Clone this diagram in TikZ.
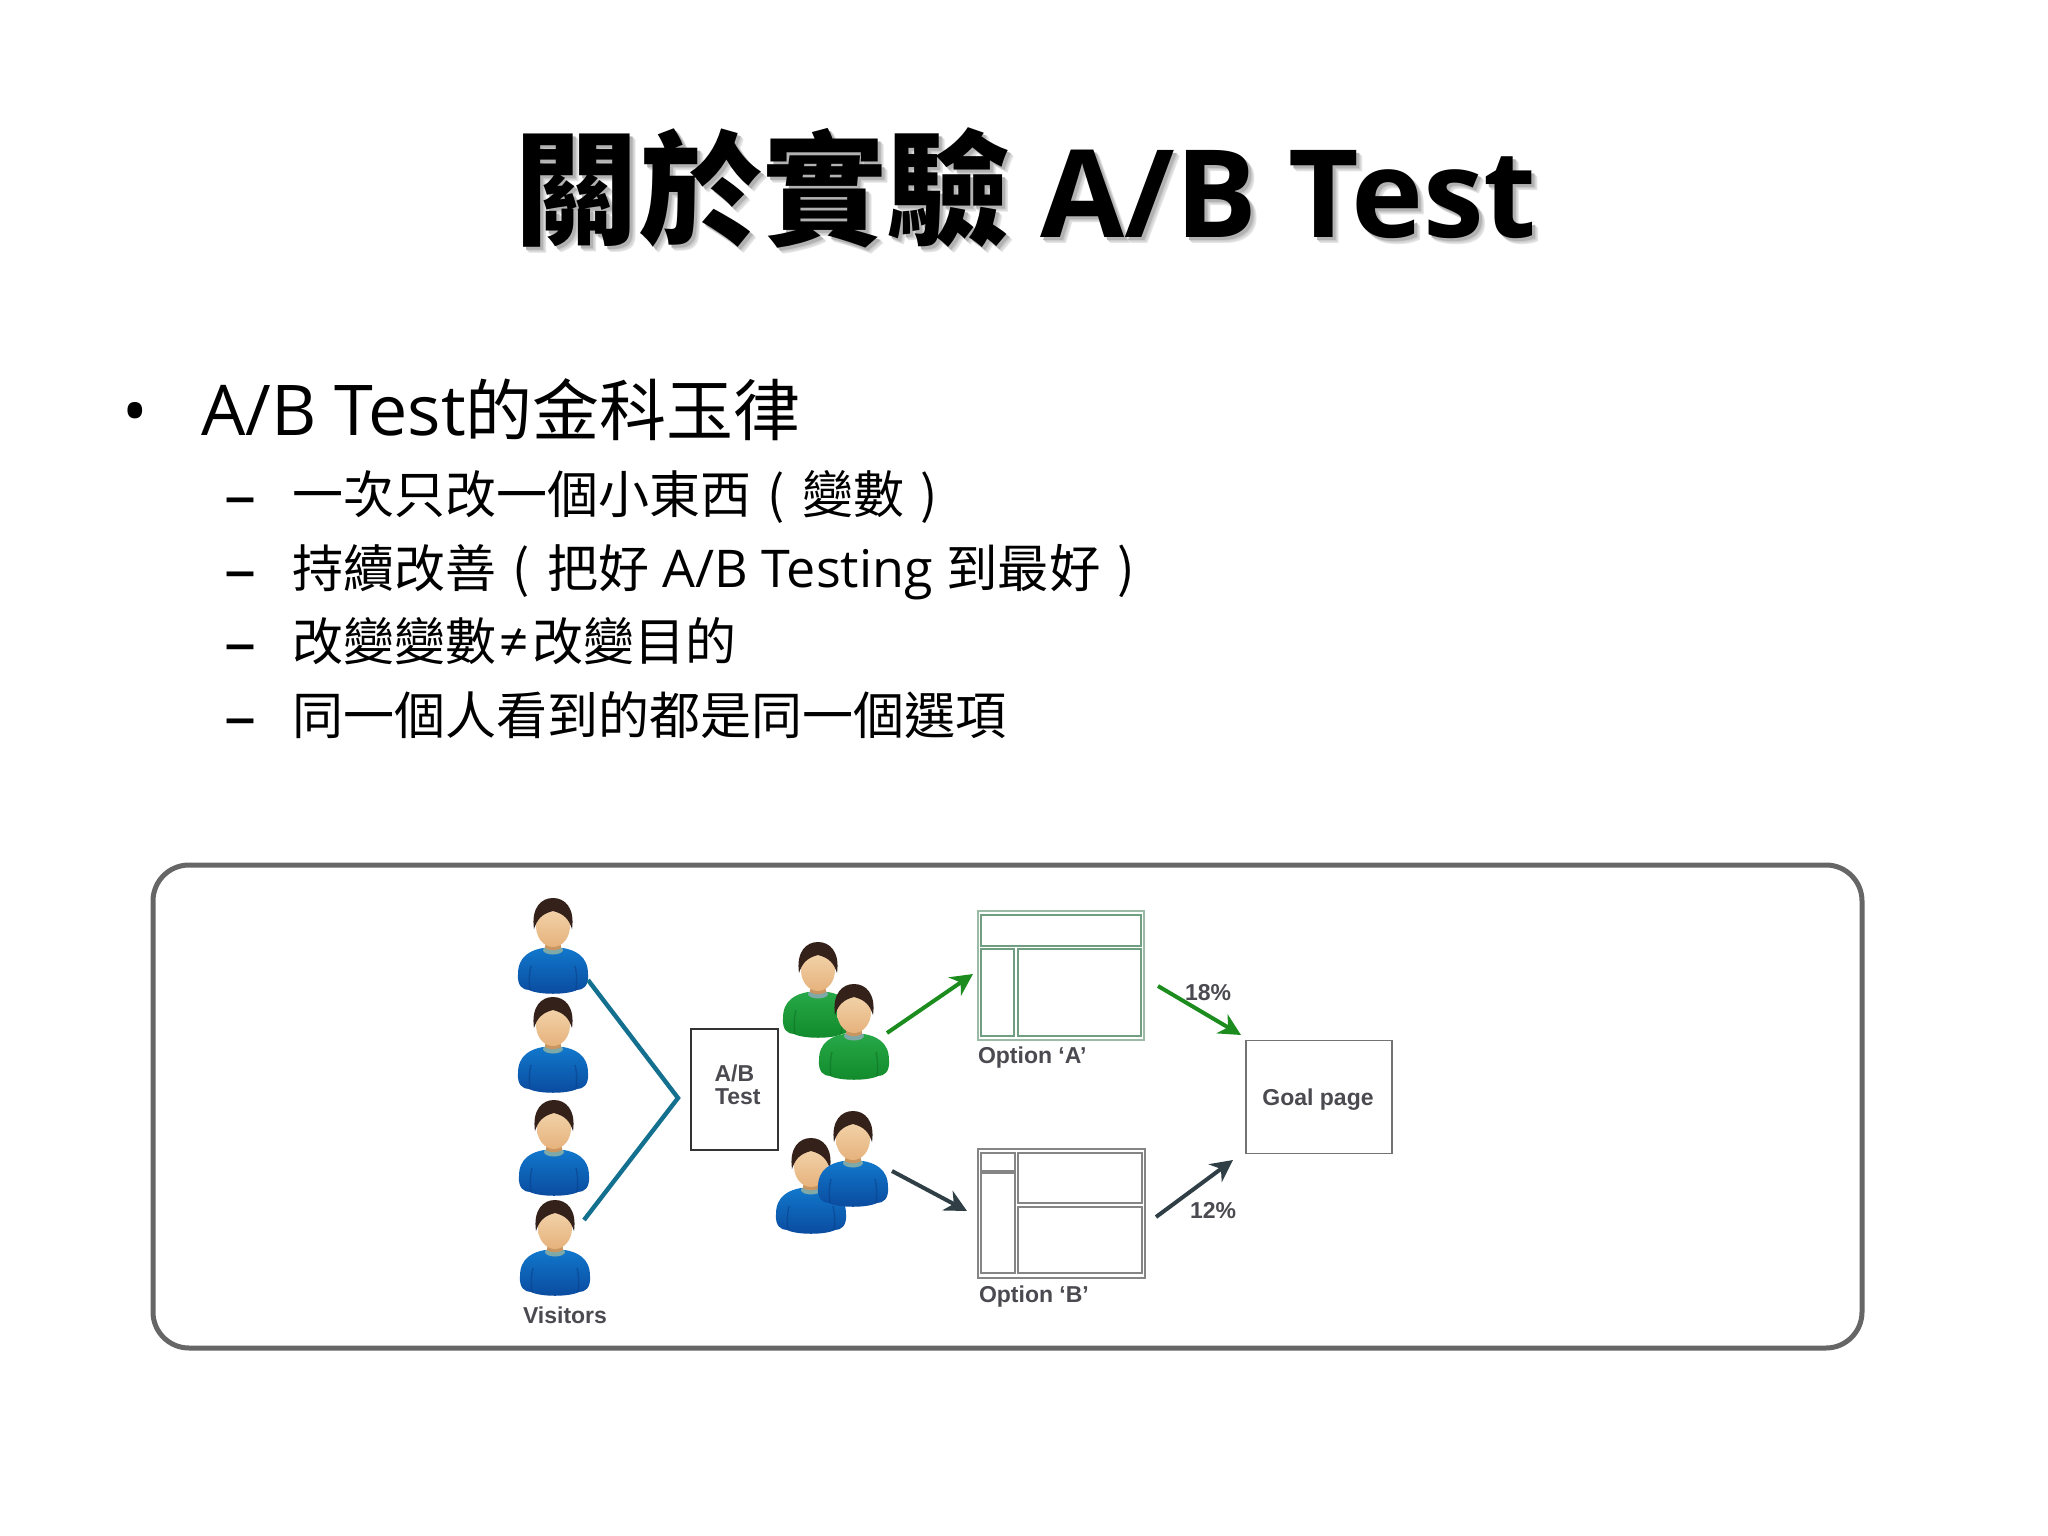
\documentclass[tikz,border=0pt]{standalone}
\usepackage{fontspec}
\usetikzlibrary{arrows.meta}
\setmainfont{Open Sans}
\newfontfamily\cjk{Noto Sans CJK TC}
\newfontfamily\diag{Liberation Sans}[BoldFont={Liberation Sans Bold}]
\newcommand\fsz[1]{\fontsize{#1}{#1}\selectfont}
\newcommand\fp[1]{\makebox[51pt][c]{\cjk #1}}
\newcommand\titletext{\raisebox{2pt}{\cjk\fsz{124}關於實驗}\hspace{-1pt} A/B Test}
\definecolor{diagtext}{HTML}{4A4A50}
\definecolor{panelline}{HTML}{666666}
\definecolor{splitblue}{HTML}{14708F}
\definecolor{arrowgreen}{HTML}{1C8C1F}
\definecolor{arrowdark}{HTML}{2F3F45}
\definecolor{hairc}{HTML}{33211A}
\definecolor{framegreen}{HTML}{6F9F80}
\definecolor{framegray}{HTML}{858585}
\definecolor{skintop}{HTML}{F3D6AE}
\definecolor{skinbot}{HTML}{E6B27C}
\definecolor{neckc}{HTML}{C99560}
\definecolor{collarc}{HTML}{7FA8A8}
\definecolor{bluetop}{HTML}{1178CC}
\definecolor{bluebot}{HTML}{0A4A9E}
\definecolor{blueseam}{HTML}{0A3F88}
\definecolor{greentop}{HTML}{27A848}
\definecolor{greenbot}{HTML}{118A2A}
\definecolor{greenseam}{HTML}{0D7023}
\tikzset{
  lab/.style={anchor=base west,inner sep=0pt,outer sep=0pt},
  diaglab/.style={lab,text=diagtext,font=\diag\bfseries\fsz{23}},
  sub/.style={lab,font=\fsz{51}},
  subdash/.style={lab,font=\fsz{64}},
  arr/.style={line width=4pt,-{Stealth[length=22pt,width=22pt,inset=7pt]}},
  cellg/.style={draw=framegreen,line width=1.6pt},
  cellb/.style={draw=framegray,line width=1.6pt},
}
\newcommand\personfig[5]{% x, y, light, dark, seam
\begin{scope}[shift={(#1,#2)}]
  \shade[top color=#3,bottom color=#4,draw=none]
    (-10,50) .. controls (-22,52) and (-35,58) .. (-35,76)
    .. controls (-36,88) and (-30,92) .. (-24,92)
    .. controls (-14,97) and (14,97) .. (24,92)
    .. controls (30,92) and (36,88) .. (35,76)
    .. controls (35,58) and (22,52) .. (10,50) -- cycle;
  \draw[#5,line width=1.4pt,opacity=.55] (-22,68) .. controls (-24,76) and (-24,84) .. (-23,92);
  \draw[#5,line width=1.4pt,opacity=.55] (22,68) .. controls (24,76) and (24,84) .. (23,92);
  \fill[collarc] (0,52) ellipse (10 and 4.5);
  \fill[neckc] (-7,40) -- (7,40) -- (8,50) .. controls (3,53) and (-3,53) .. (-8,50) -- cycle;
  \shade[top color=skintop,bottom color=skinbot]
    (0,28) ellipse (17 and 21);
  \fill[hairc] (-19,31) .. controls (-22,10) and (-12,0) .. (0,0)
    .. controls (12,0) and (22,10) .. (19,31)
    .. controls (16,22) and (12,16) .. (0,13)
    .. controls (-12,16) and (-16,22) .. (-19,31) -- cycle;
\end{scope}}
\newcommand\bluep[2]{\personfig{#1}{#2}{bluetop}{bluebot}{blueseam}}
\newcommand\greenp[2]{\personfig{#1}{#2}{greentop}{greenbot}{greenseam}}
\begin{document}
\begin{tikzpicture}[x=1pt,y=-1pt]
\useasboundingbox (0,0) rectangle (2048,1536);
\fill[white] (0,0) rectangle (2048,1536);
% title
\foreach \o/\s in {6/10,5/15,4/20,3/30}{
  \node[lab,text=black!\s,font=\bfseries\fsz{122}] at ({514+\o},{237+\o}) {\titletext};
}
\node[lab,font=\bfseries\fsz{122}] (title) at (514,237) {\titletext};
% level 1
\node[lab,font=\fsz{68}] (b1) at (122,435) {•};
\node[lab,font=\fsz{70}] (t1) at (201,435) {A/B Test{\cjk\fsz{67}的金科玉律}};
% level 2
\node[subdash] (d1) at (224,517) {–};
\node[sub] (s1) at (292,513) {{\cjk 一次只改一個小東西}\fp{(}{\cjk 變數}\fp{)}};
\node[subdash] (d2) at (224,591) {–};
\node[sub] (s2) at (292,587) {{\cjk 持續改善}\fp{(}{\cjk 把好}\fsz{52} A/B Testing {\cjk\fsz{51.5}到最好}\fp{)}};
\node[subdash] (d3) at (224,664) {–};
\node[sub] (s3) at (292,660) {{\cjk 改變變數}\makebox[36pt][c]{≠}{\cjk 改變目的}};
\node[subdash] (d4) at (224,738) {–};
\node[sub] (s4) at (292,734) {{\cjk 同一個人看到的都是同一個選項}};
% panel
\draw[panelline,line width=5pt,rounded corners=36pt] (153,865) rectangle (1862,1348);
% visitors
\bluep{553}{898}
\bluep{553}{997}
\bluep{554}{1100}
\bluep{555}{1200}
\node[diaglab] (vis) at (523,1323) {Visitors};
% splitter
\coordinate (sa) at (588,980);
\coordinate (sb) at (678,1098);
\coordinate (sc) at (584,1220);
\draw[splitblue,line width=4.4pt] (sa) -- (sb) -- (sc);
% A/B box
\node[draw=black!80,line width=1.5pt,minimum width=87pt,minimum height=121pt,inner sep=0pt] (ab) at (734.5,1089.5) {};
\node[diaglab] (abt) at (714.5,1081) {A/B};
\node[diaglab] (abu) at (715,1104) {Test};
% groups
\greenp{818}{942}
\greenp{854}{984}
\bluep{811}{1138}
\bluep{853}{1111}
% option A
\draw[cellg,line width=2.5pt,draw=framegreen!70!white] (978,911) rectangle (1144,1040);
\draw[cellg] (981,915) rectangle (1141,946);
\draw[cellg] (981,949) rectangle (1014,1036);
\draw[cellg] (1018,949) rectangle (1141,1036);
\node[diaglab] (oa) at (978,1063) {Option ‘A’};
% option B
\draw[cellb,line width=2.5pt] (978,1149) rectangle (1145,1278);
\draw[cellb] (981,1153) rectangle (1015,1171);
\draw[cellb] (981,1173) rectangle (1015,1273);
\draw[cellb] (1018,1153) rectangle (1142,1203);
\draw[cellb] (1018,1207) rectangle (1142,1273);
\node[diaglab] (ob) at (979,1302) {Option ‘B’};
% goal
\node[draw=black!55,line width=1.5pt,minimum width=146pt,minimum height=113pt,inner sep=0pt] (goal) at (1319,1097) {};
\node[text=diagtext,font=\diag\bfseries\fsz{23},inner sep=0pt] (gt) at (1318,1100) {Goal page};
% arrows
\coordinate (g1a) at (887,1033); \coordinate (g1b) at (973,974);
\coordinate (d1a) at (892,1171); \coordinate (d1b) at (967,1211);
\coordinate (g2a) at (1158,986); \coordinate (g2b) at (1241,1035);
\coordinate (d2a) at (1156,1217); \coordinate (d2b) at (1233,1160);
\draw[arr,arrowgreen] (g1a) -- (g1b);
\draw[arr,arrowdark] (d1a) -- (d1b);
\draw[arr,arrowgreen] (g2a) -- (g2b);
\draw[arr,arrowdark] (d2a) -- (d2b);
\node[diaglab] (p18) at (1185,1000) {18\%};
\node[diaglab] (p12) at (1190,1218) {12\%};
\end{tikzpicture}
\end{document}
